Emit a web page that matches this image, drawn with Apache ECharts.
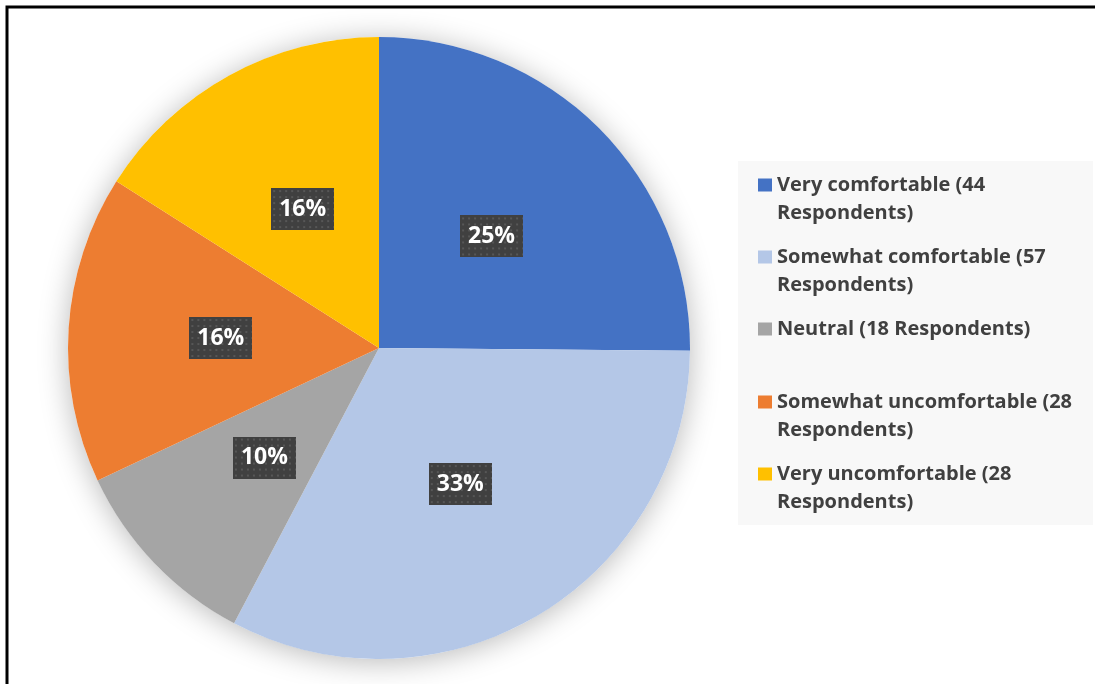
<!DOCTYPE html>
<html>
<head>
<meta charset="utf-8">
<script src="https://cdn.jsdelivr.net/npm/echarts@6/dist/echarts.min.js"></script>
<style>
  html, body { margin: 0; padding: 0; background: #fff; }
  #main { width: 1095px; height: 684px; }
</style>
</head>
<body>
<div id="main"></div>
<script>
// survey answers
var categories = [
  'Very comfortable',
  'Somewhat comfortable',
  'Neutral',
  'Somewhat uncomfortable',
  'Very uncomfortable'
];
var respondents = [44, 57, 18, 28, 28];
var colors = ['#4472C4', '#B4C7E7', '#A5A5A5', '#ED7D31', '#FFC000'];

// dark dotted box behind the percent labels
function dotBox(w, h) {
  var c = document.createElement('canvas');
  c.width = w; c.height = h;
  var g = c.getContext('2d');
  g.fillStyle = '#404040';
  g.fillRect(0, 0, w, h);
  g.fillStyle = '#575757';
  for (var y = 2; y < h; y += 6) {
    for (var x = 2; x < w; x += 6) g.fillRect(x, y, 2, 2);
  }
  return c;
}

var font = '"Open Sans", Lato, sans-serif';

function legendFor(i, top, twoLines) {
  return {
    data: [categories[i]],
    left: 758,
    top: top,
    orient: 'vertical',
    padding: 0,
    itemWidth: 14,
    itemHeight: 13,
    icon: 'rect',
    selectedMode: false,
    formatter: function (name) {
      var k = categories.indexOf(name);
      var txt = name + ' (' + respondents[k];
      // blank first line keeps the marker level with the first text line
      return twoLines ? '\n' + txt + '\nRespondents)' : txt + ' Respondents)';
    },
    textStyle: {
      color: '#404040',
      fontFamily: font,
      fontWeight: 'bold',
      fontSize: 20,
      lineHeight: 28
    }
  };
}

var chart = echarts.init(document.getElementById('main'));
chart.setOption({
  backgroundColor: '#fff',
  animation: false,
  color: colors,
  graphic: [
    {
      type: 'rect', z: -10,
      shape: { x: 7, y: 7, width: 1100, height: 700 },
      style: { fill: 'none', stroke: '#000', lineWidth: 3 }
    },
    {
      type: 'rect', z: -9,
      shape: { x: 738, y: 161, width: 355, height: 364 },
      style: { fill: '#f8f8f8' }
    }
  ],
  legend: [
    legendFor(0, 143, true),
    legendFor(1, 215, true),
    legendFor(2, 315, false),
    legendFor(3, 360, true),
    legendFor(4, 432, true)
  ],
  series: [
    {
      // soft shadow under the whole pie
      type: 'pie',
      silent: true,
      z: 1,
      center: [379, 348],
      radius: 311,
      label: { show: false },
      labelLine: { show: false },
      itemStyle: {
        color: '#fff',
        shadowBlur: 30,
        shadowOffsetY: 3,
        shadowColor: 'rgba(0,0,0,0.28)'
      },
      data: [{ value: 1, name: '_bg' }]
    },
    {
      type: 'pie',
      z: 2,
      center: [379, 348],
      radius: 311,
      startAngle: 90,
      clockwise: true,
      itemStyle: { borderWidth: 0 },
      emphasis: { disabled: true },
      label: {
        show: true,
        position: 'inside',
        formatter: function (p) { return Math.round(p.percent) + '%'; },
        color: '#fff',
        fontFamily: font,
        fontWeight: 'bold',
        fontSize: 23,
        width: 63,
        height: 42,
        lineHeight: 42,
        align: 'center',
        verticalAlign: 'middle',
        backgroundColor: { image: dotBox(63, 42) },
        shadowColor: 'rgba(0,0,0,0.45)',
        shadowBlur: 5,
        shadowOffsetX: 3,
        shadowOffsetY: 4
      },
      labelLine: { show: false },
      data: categories.map(function (c, i) {
        return { name: c, value: respondents[i] };
      })
    }
  ]
});
</script>
</body>
</html>
